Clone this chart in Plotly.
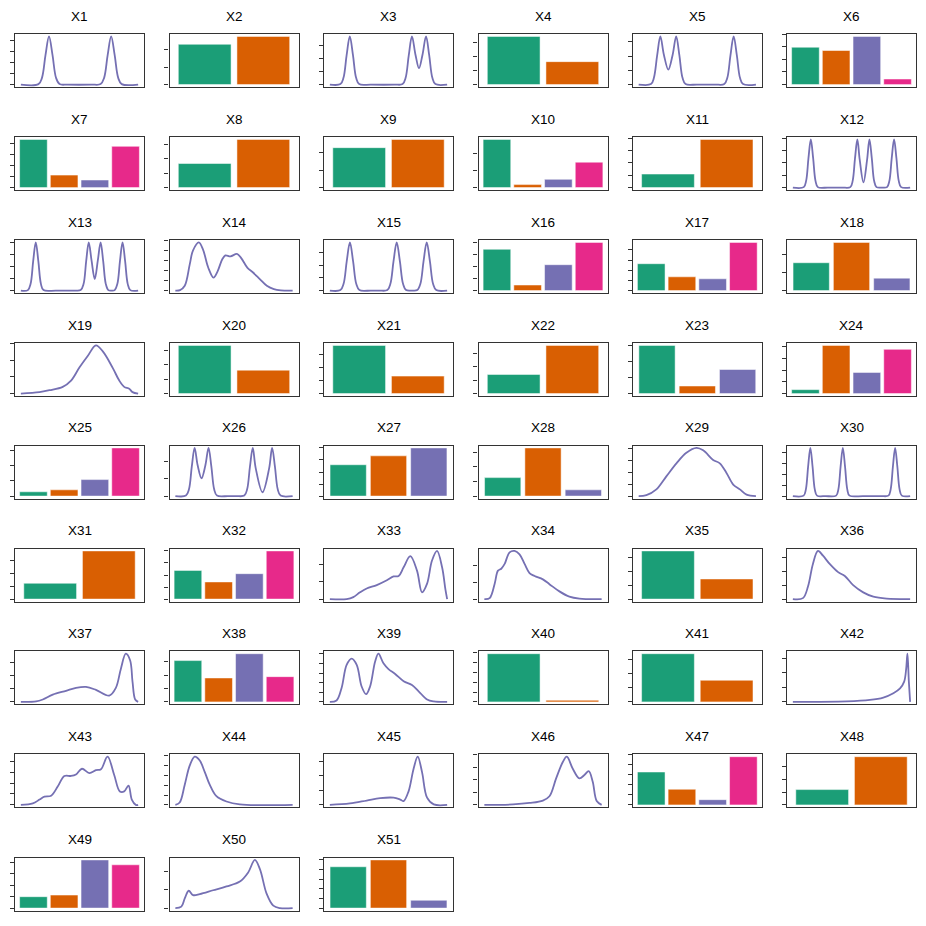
import plotly.graph_objects as go

# ---------------------------------------------------------------------------
# data
# density curves: x as % of the variable's range, y as % of the curve's peak
# bar charts: counts per level
# ---------------------------------------------------------------------------

X1_x = [0, 15, 18, 21, 24, 27, 30, 33, 40, 60, 68, 71, 74, 77, 80, 83, 86, 100]
X1_y = [0, 1, 14, 61, 100, 61, 14, 1, 0, 0, 1, 14, 61, 100, 61, 14, 1, 0]

X2_n = [123, 147]

X3_x = [0, 9, 11.6, 14.3, 17, 19.7, 22.4, 25, 35, 55, 62, 64.6, 67.3, 70, 73, 76, 79, 82, 84.7, 87.4, 90, 100]
X3_y = [0, 1, 14, 61, 100, 61, 14, 1, 0, 0, 1, 14, 61, 100, 62, 34, 62, 100, 61, 14, 1, 0]

X4_n = [147, 70]

X5_x = [0, 10.5, 13, 15.8, 18.5, 21.5, 25.3, 29, 32, 34.7, 37.4, 40, 50, 65, 73, 75.6, 78.3, 81, 83.7, 86.4, 89, 100]
X5_y = [0, 1, 14, 61, 100, 62, 31, 62, 100, 61, 14, 1, 0, 0, 1, 14, 61, 100, 61, 14, 1, 0]

X6_n = [114, 104, 147, 17]
X7_n = [146, 38, 23, 125]
X8_n = [73, 146]
X9_n = [121, 146]
X10_n = [146, 9, 25, 77]
X11_n = [41, 146]

X12_x = [0, 9.3, 11.3, 13.3, 15.3, 17.3, 19.3, 21.3, 30, 42,
         49, 51, 53, 55, 57, 60.2, 63.3, 65.3, 67.3, 69.3, 71.3, 76,
         80.3, 82.3, 84.3, 86.3, 88.3, 90.3, 92.3, 100]
X12_y = [0, 1, 14, 61, 100, 61, 14, 1, 0, 0,
         1, 14, 61, 100, 58, 11, 58, 100, 61, 14, 1, 0,
         1, 14, 61, 100, 61, 14, 1, 0]

X13_x = [0, 6, 8.3, 10.5, 12.7, 14.9, 17.1, 19.3, 30, 45,
         51, 53.5, 55.7, 57.9, 60.3, 63, 65.6, 68, 70.2, 72.4, 74.6, 77.5,
         80, 82.3, 84.5, 86.7, 88.9, 91.1, 93.3, 100]
X13_y = [0, 1, 14, 61, 100, 61, 14, 1, 0, 0,
         1, 14, 61, 100, 62, 24, 62, 100, 61, 14, 1, 0,
         1, 14, 61, 100, 61, 14, 1, 0]

X14_x = [0, 4, 8, 12.3, 15, 20, 23.6, 28, 32.5, 36, 40, 42.7, 47, 52.5, 56, 61.5, 66, 72, 78, 84, 90, 100]
X14_y = [0, 1, 10, 55, 83, 100, 85, 48, 27, 40, 65, 73, 71, 76, 68, 47, 38, 24, 10, 3, 0.5, 0]

X15_x = [0, 9, 11.7, 14.4, 17.1, 19.8, 22.5, 25.2, 35, 42,
         49, 51.6, 54.3, 57, 59.7, 62.4, 65, 70,
         74.5, 77.2, 79.9, 82.6, 85.3, 88, 90.7, 100]
X15_y = [0, 1, 14, 61, 100, 61, 14, 1, 0, 0,
         1, 14, 61, 100, 61, 14, 1, 0,
         1, 14, 61, 100, 61, 14, 1, 0]

X16_n = [126, 17, 79, 147]
X17_n = [82, 42, 36, 147]
X18_n = [85, 147, 38]

X19_x = [0, 15.9, 24.4, 35.7, 42.8, 49.9, 57, 64, 69.7, 78.2, 83.9, 88.1, 92.4, 95.2, 100]
X19_y = [0, 3, 7, 14, 27, 54, 78, 100, 88, 54, 27, 14, 10, 3, 0]

X20_n = [146, 71]
X21_n = [146, 53]
X22_n = [58, 146]
X23_n = [146, 23, 73]
X24_n = [12, 146, 64, 134]
X25_n = [13, 19, 50, 146]

X26_x = [0, 9, 11.6, 14, 16.4, 19, 22.3, 25.6, 28.3, 30.7, 33.1, 35.5, 45, 52,
         58.8, 61.2, 63.6, 66, 68.5, 74.3, 80, 82.5, 84.9, 87.3, 89.7, 100]
X26_y = [0, 1, 14, 61, 100, 64, 37, 64, 100, 61, 14, 1, 0, 0,
         1, 14, 61, 100, 58, 8, 58, 100, 61, 14, 1, 0]

X27_n = [95, 122, 146]
X28_n = [56, 146, 19]

X29_x = [0, 6.6, 15.1, 23.6, 32.2, 40.7, 49.3, 55, 63.5, 69.2, 74.9, 80.6, 86.3, 92, 100]
X29_y = [0, 2, 14, 41, 68, 90, 100, 95, 75, 68, 48, 24, 14, 3, 0]

X30_x = [0, 9.2, 11.1, 13, 14.9, 16.8, 18.7, 20.6, 28,
         36.9, 38.8, 40.7, 42.6, 44.5, 46.4, 48.3, 60, 75,
         81.5, 83.4, 85.3, 87.2, 89.1, 91, 92.9, 100]
X30_y = [0, 1, 14, 61, 100, 61, 14, 1, 0,
         1, 14, 61, 100, 61, 14, 1, 0, 0,
         1, 14, 61, 100, 61, 14, 1, 0]

X31_n = [48, 146]
X32_n = [87, 52, 77, 146]

X33_x = [0, 14.3, 20, 25.7, 31.4, 40, 48.6, 54.3, 58.6, 62.9, 68.6, 74.3, 78.6, 82.9, 87.1, 91.4, 95.7, 98.6, 100]
X33_y = [0, 0, 4, 14, 22, 29, 39, 47, 48, 66, 89, 59, 14, 32, 80, 100, 66, 19, 0]

X34_x = [0, 4.5, 8.8, 11.6, 14.4, 17.3, 21.5, 25.8, 30, 34.3, 38.5, 42.8, 49.9, 55.5, 64, 72.5, 81, 100]
X34_y = [0, 2, 32, 59, 63, 73, 97, 100, 93, 73, 54, 48, 41, 31, 16, 5, 1, 0]

X35_n = [146, 61]

X36_x = [0, 8.6, 12.9, 17.1, 21.4, 25.7, 31.4, 38.6, 44.3, 51.4, 60, 68.6, 80, 100]
X36_y = [0, 2, 26, 73, 100, 90, 73, 56, 48, 29, 14, 5, 1, 0]

X37_x = [0, 13, 18.7, 27.2, 38.5, 47, 55.5, 64, 75.4, 81, 85.3, 89.5, 93.2, 95.2, 97.5, 100]
X37_y = [0, 1, 5, 15, 23, 29, 31, 25, 13, 29, 69, 100, 86, 42, 5, 0]

X38_n = [126, 73, 147, 77]

X39_x = [0, 5.7, 10, 14.3, 18.6, 22.9, 27.1, 30.9, 34.3, 38.6, 41.4, 45.7, 50, 55.7, 62.9, 70, 75.7, 82.9, 88.6, 100]
X39_y = [0, 3, 29, 77, 90, 77, 32, 16, 32, 84, 100, 80, 68, 58, 43, 35, 22, 5, 1, 0]

X40_n = [147, 5]
X41_n = [147, 66]

X42_x = [0, 45.7, 65.7, 77.1, 85.7, 91.4, 94.9, 96.6, 97.7, 98.9, 100]
X42_y = [0, 1, 4, 9, 18, 28, 42, 68, 100, 42, 0]

X43_x = [0, 10.2, 15.9, 20.1, 25.8, 31.4, 37.1, 42.8, 47, 52.1, 58.4, 64, 68.3, 73.9, 79.6, 84.4, 88.1, 91.8, 94.6, 98, 100]
X43_y = [0, 3, 11, 17, 19, 38, 60, 60, 63, 75, 66, 72, 74, 100, 62, 28, 28, 40, 11, 0, 0]

X44_x = [0, 3.7, 8, 12.3, 16.5, 20.8, 25.1, 29.3, 35, 43.6, 55, 100]
X44_y = [0, 5, 42, 82, 100, 92, 68, 42, 18, 7, 1, 0]

X45_x = [0, 17.1, 31.4, 42.9, 54.3, 60, 62.9, 67.1, 71.4, 74.9, 78.6, 82.9, 88.6, 100]
X45_y = [0, 3, 9, 14, 15, 11, 8, 28, 75, 100, 68, 15, 1, 0]

X46_x = [0, 24.4, 38.5, 49.9, 55.5, 61.2, 66.9, 70.3, 75.4, 81, 85.3, 89, 92.4, 95.8, 100]
X46_y = [0, 1, 4, 9, 18, 55, 89, 100, 75, 55, 62, 70, 48, 8, 0]

X47_n = [101, 48, 16, 148]
X48_n = [47, 148]
X49_n = [35, 40, 148, 133]

X50_x = [0, 5.1, 8, 11.4, 15.1, 20.8, 32.2, 43.6, 55, 62.1, 67.8, 72.1, 77.8, 83.5, 89.2, 100]
X50_y = [0, 3, 20, 36, 27, 29, 37, 45, 55, 74, 100, 81, 30, 5, 0, 0]

X51_n = [127, 148, 24]

densities = {
    'X1': (X1_x, X1_y), 'X3': (X3_x, X3_y), 'X5': (X5_x, X5_y),
    'X12': (X12_x, X12_y), 'X13': (X13_x, X13_y), 'X14': (X14_x, X14_y),
    'X15': (X15_x, X15_y), 'X19': (X19_x, X19_y), 'X26': (X26_x, X26_y),
    'X29': (X29_x, X29_y), 'X30': (X30_x, X30_y), 'X33': (X33_x, X33_y),
    'X34': (X34_x, X34_y), 'X36': (X36_x, X36_y), 'X37': (X37_x, X37_y),
    'X39': (X39_x, X39_y), 'X42': (X42_x, X42_y), 'X43': (X43_x, X43_y),
    'X44': (X44_x, X44_y), 'X45': (X45_x, X45_y), 'X46': (X46_x, X46_y),
    'X50': (X50_x, X50_y),
}
bars = {
    'X2': X2_n, 'X4': X4_n, 'X6': X6_n, 'X7': X7_n, 'X8': X8_n, 'X9': X9_n,
    'X10': X10_n, 'X11': X11_n, 'X16': X16_n, 'X17': X17_n, 'X18': X18_n,
    'X20': X20_n, 'X21': X21_n, 'X22': X22_n, 'X23': X23_n, 'X24': X24_n,
    'X25': X25_n, 'X27': X27_n, 'X28': X28_n, 'X31': X31_n, 'X32': X32_n,
    'X35': X35_n, 'X38': X38_n, 'X40': X40_n, 'X41': X41_n, 'X47': X47_n,
    'X48': X48_n, 'X49': X49_n, 'X51': X51_n,
}

# spacing of the (unlabelled) y ticks, in each panel's own units
tick_step = {
    'X1': 22.9, 'X2': 53.5, 'X3': 27.2, 'X4': 43.3, 'X5': 29.5, 'X6': 38.5,
    'X7': 33.3, 'X8': 44, 'X9': 53, 'X10': 51.5, 'X11': 37.5, 'X12': 25.7,
    'X13': 25, 'X14': 20.7, 'X15': 26.5, 'X16': 37, 'X17': 31, 'X18': 54.5,
    'X19': 34.7, 'X20': 43.7, 'X21': 39.7, 'X22': 41, 'X23': 48.7, 'X24': 35.7,
    'X25': 46, 'X26': 36, 'X27': 36.5, 'X28': 44.3, 'X29': 24.8, 'X30': 22.6,
    'X31': 38.7, 'X32': 36.5, 'X33': 35.8, 'X34': 35.1, 'X35': 42, 'X36': 28.8,
    'X37': 27.2, 'X38': 41, 'X39': 19.9, 'X40': 30, 'X41': 43.3, 'X42': 30.2,
    'X43': 22.7, 'X44': 20.3, 'X45': 30.2, 'X46': 26.2, 'X47': 31, 'X48': 39,
    'X49': 35, 'X50': 37.8, 'X51': 29.6,
}

# ---------------------------------------------------------------------------
# style / grid geometry (page pixels)
# the page body has an 8px margin, so the figure is drawn 8px smaller and
# every position is shifted by that offset
# ---------------------------------------------------------------------------
PAGE = 926
OFF = 8
W = H = PAGE - OFF
PALETTE = ['#1B9E77', '#D95F02', '#7570B3', '#E7298A']
LINE_COLOR = '#7570B3'
FRAME = '#333333'
COL_LEFT = [15, 169.5, 324, 478.5, 632.8, 787]
ROW_TOP = [34, 137, 240, 343, 445.5, 548.5, 651.3, 754.3, 857.5]
PW, PH = 129, 53

fig = go.Figure()
layout = {}
annotations = []

for i in range(1, 52):
    name = f'X{i}'
    r, c = divmod(i - 1, 6)
    left, top = COL_LEFT[c] - OFF, ROW_TOP[r] - OFF
    sfx = '' if i == 1 else str(i)
    xa, ya = 'x' + sfx, 'y' + sfx

    if name in bars:
        counts = bars[name]
        n = len(counts)
        fig.add_trace(go.Bar(
            x=list(range(1, n + 1)), y=counts, width=0.9,
            marker=dict(color=PALETTE[:n], line=dict(color='white', width=0.5)),
            xaxis=xa, yaxis=ya, showlegend=False, hoverinfo='y'))
        xr = [0.4, n + 0.6]
        ymax = max(counts)
    else:
        xs, ys = densities[name]
        fig.add_trace(go.Scatter(
            x=xs, y=ys, mode='lines',
            line=dict(color=LINE_COLOR, width=1.8, shape='spline', smoothing=1.0),
            xaxis=xa, yaxis=ya, showlegend=False, hoverinfo='skip'))
        xr = [-5, 105]
        ymax = max(ys)

    layout['xaxis' + sfx] = dict(
        domain=[left / W, (left + PW) / W], range=xr, anchor=ya,
        showticklabels=False, ticks='', showgrid=False, zeroline=False,
        showline=True, mirror=True, linecolor=FRAME, linewidth=1.1)
    layout['yaxis' + sfx] = dict(
        domain=[1 - (top + PH) / H, 1 - top / H],
        range=[-0.05 * ymax, 1.05 * ymax], anchor=xa,
        showticklabels=False, ticks='outside', ticklen=4, tickwidth=1.1,
        tickcolor=FRAME, tick0=0, dtick=tick_step[name],
        showgrid=False, zeroline=False,
        showline=True, mirror=True, linecolor=FRAME, linewidth=1.1)

    annotations.append(dict(
        text=name, x=(left + PW / 2) / W, y=1 - (top - 18) / H,
        xref='paper', yref='paper', xanchor='center', yanchor='middle',
        showarrow=False, font=dict(size=13.5, color='black')))

fig.update_layout(
    width=W, height=H,
    margin=dict(l=0, r=0, t=0, b=0),
    paper_bgcolor='white', plot_bgcolor='white',
    font=dict(family='Liberation Sans, Arial, sans-serif'),
    annotations=annotations,
    bargap=0.1,
    **layout)

fig.write_html('out.html')
